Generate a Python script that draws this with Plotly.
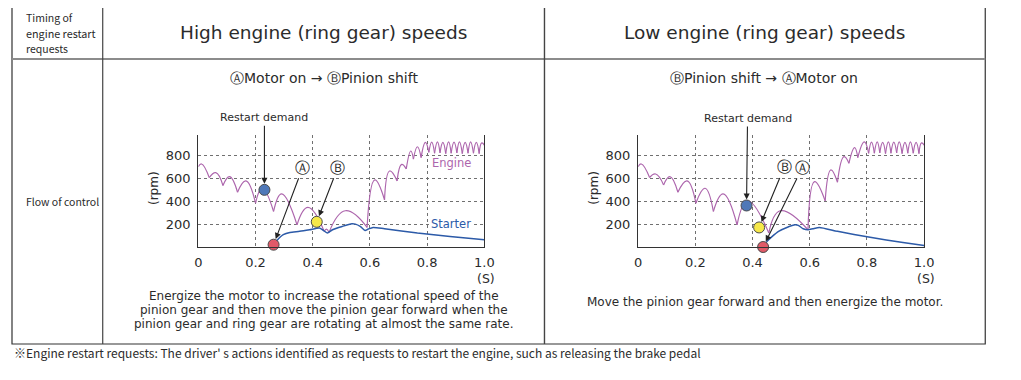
import plotly.graph_objects as go

# the page body adds an 8px margin; the figure is drawn inside it
OFF = 8
W, H = 1021 - OFF - 8, 380 - OFF - 8

# ---------------- data ----------------
x_tick_vals = [0, 0.2, 0.4, 0.6, 0.8, 1.0]
x_tick_text = ["0", "0.2", "0.4", "0.6", "0.8", "1.0"]
y_tick_vals = [200, 400, 600, 800]
y_tick_text = ["200", "400", "600", "800"]

# Engine speed: alternating valley / peak points (valley, peak, valley, ...)
hi_engine_x = [0.0, 0.011, 0.038, 0.061, 0.086, 0.109, 0.137, 0.166, 0.200, 0.223,
               0.263, 0.291, 0.345, 0.383, 0.440, 0.448, 0.457, 0.514, 0.590, 0.617,
               0.651, 0.669, 0.695, 0.711, 0.727, 0.743, 0.752, 0.766, 0.779, 0.794,
               0.806, 0.816, 0.826, 0.836, 0.845, 0.855, 0.865, 0.875, 0.884, 0.894,
               0.904, 0.913, 0.923, 0.933, 0.943, 0.952, 0.962, 0.972, 0.982, 0.991,
               1.0]
hi_engine_y = [699, 722, 604, 647, 534, 612, 476, 575, 381, 511,
               309, 462, 193, 344, 136, 156, 127, 315, 170, 583,
               410, 661, 575, 719, 679, 835, 765, 872, 777, 910,
               823, 912, 815, 915, 818, 910, 812, 915, 815, 912,
               818, 915, 812, 910, 815, 915, 815, 910, 812, 905,
               886]
hi_starter_x = [0.263, 0.274, 0.297, 0.320, 0.354, 0.389, 0.423, 0.434, 0.451, 0.469,
                0.503, 0.537, 0.549, 0.566, 0.583, 0.594, 0.611, 0.651, 0.766, 0.880, 1.0]
hi_starter_y = [20, 55, 107, 127, 136, 150, 165, 150, 121, 150,
                179, 202, 199, 179, 144, 156, 170, 159, 121, 92, 64]
# restart demand (blue), A motor on (red), B pinion shift (yellow)
hi_event_x = [0.231, 0.263, 0.414]
hi_event_y = [497, 20, 219]

lo_engine_x = [0.0, 0.011, 0.040, 0.061, 0.089, 0.111, 0.139, 0.171, 0.202, 0.234,
               0.263, 0.297, 0.346, 0.383, 0.457, 0.497, 0.594, 0.617, 0.654, 0.674,
               0.697, 0.720, 0.737, 0.757, 0.768, 0.791, 0.806, 0.816, 0.826, 0.836,
               0.845, 0.855, 0.865, 0.875, 0.884, 0.894, 0.904, 0.913, 0.923, 0.933,
               0.943, 0.952, 0.962, 0.972, 0.982, 0.991, 1.0]
lo_engine_y = [699, 722, 604, 635, 540, 612, 476, 575, 381, 511,
               309, 462, 193, 400, 121, 315, 150, 569, 401, 670,
               563, 786, 728, 864, 777, 915, 814, 912, 815, 915,
               818, 910, 812, 915, 815, 912, 818, 915, 812, 910,
               815, 915, 815, 910, 812, 905, 886]
lo_starter_x = [0.437, 0.451, 0.469, 0.491, 0.520, 0.549, 0.560, 0.577, 0.594, 0.611,
                0.634, 0.697, 0.811, 0.926, 1.0]
lo_starter_y = [0, 49, 92, 136, 170, 193, 188, 159, 150, 159,
                170, 136, 84, 40, 14]
lo_event_x = [0.379, 0.437, 0.423]
lo_event_y = [361, 0, 170]

event_colors = ["#4f78b8", "#e05a68", "#f6e84a"]

ENGINE_C = "#ad66ad"
STARTER_C = "#2c5aa8"
FONT = "DejaVu Sans"
JFONT = "Noto Sans CJK JP"
TXT = "#2b2b2b"


# pixel geometry helpers (coordinates measured on the 1021x380 page)
def px(x):
    return (x - OFF) / W


def py(y):
    return 1 - (y - OFF) / H


Y_TOP = 974


def arcs(xs, ys):
    """split the valley/peak sequence into separate humps (valley-peak-valley)."""
    ox, oy = [], []
    for i in range(0, len(xs) - 1, 2):
        seg = range(i, min(i + 3, len(xs)))
        ox += [xs[j] for j in seg] + [None]
        oy += [ys[j] for j in seg] + [None]
    return ox, oy


fig = go.Figure()

panels = [
    ("x", "y", hi_engine_x, hi_engine_y, hi_starter_x, hi_starter_y, hi_event_x, hi_event_y),
    ("x2", "y2", lo_engine_x, lo_engine_y, lo_starter_x, lo_starter_y, lo_event_x, lo_event_y),
]
for xa, ya, ex, ey, sx, sy, evx, evy in panels:
    ax_, ay_ = arcs(ex, ey)
    fig.add_trace(go.Scatter(x=ax_, y=ay_, xaxis=xa, yaxis=ya, mode="lines",
                             line=dict(color=ENGINE_C, width=1.2, shape="spline", smoothing=1.3),
                             connectgaps=False, hoverinfo="skip", showlegend=False))
    fig.add_trace(go.Scatter(x=sx, y=sy, xaxis=xa, yaxis=ya, mode="lines",
                             line=dict(color=STARTER_C, width=1.5, shape="spline", smoothing=0.6),
                             hoverinfo="skip", showlegend=False))
    fig.add_trace(go.Scatter(x=evx, y=evy, xaxis=xa, yaxis=ya, mode="markers",
                             marker=dict(size=11, color=event_colors,
                                         line=dict(color="#4a4a4a", width=1)),
                             cliponaxis=False, hoverinfo="skip", showlegend=False))

axis_common = dict(showline=True, linecolor="#333", linewidth=1.3, zeroline=False,
                   showgrid=True, gridcolor="#707070", gridwidth=1, griddash="3px,3px",
                   ticks="", tickfont=dict(family=FONT, size=13, color=TXT), fixedrange=True)

y_dom = [py(247), py(135)]
fig.update_layout(
    width=W, height=H, margin=dict(l=0, r=0, t=0, b=0),
    paper_bgcolor="white", plot_bgcolor="white",
    xaxis=dict(domain=[px(197), px(487)], range=[0, 1], tickvals=x_tick_vals,
               ticktext=x_tick_text, anchor="y", ticklabelstandoff=3, **axis_common),
    yaxis=dict(domain=y_dom, range=[0, Y_TOP], tickvals=y_tick_vals, ticktext=y_tick_text,
               anchor="x", mirror=True, ticklabelstandoff=4, **axis_common),
    xaxis2=dict(domain=[px(643), px(933)], range=[0, 1], tickvals=x_tick_vals,
                ticktext=x_tick_text, anchor="y2", ticklabelstandoff=3, **axis_common),
    yaxis2=dict(domain=y_dom, range=[0, Y_TOP], tickvals=y_tick_vals, ticktext=y_tick_text,
                anchor="x2", mirror=True, ticklabelstandoff=4, **axis_common),
)

# ---------------- table frame ----------------
shapes = [
    dict(type="rect", x0=px(8), x1=px(995), y0=py(6), y1=py(344),
         line=dict(color="#333", width=1.2)),
    dict(type="line", x0=px(8), x1=px(995), y0=py(59), y1=py(59),
         line=dict(color="#8c8c8c", width=2)),
    dict(type="line", x0=px(100), x1=px(100), y0=py(6), y1=py(344),
         line=dict(color="#444", width=1.2)),
    dict(type="line", x0=px(548), x1=px(548), y0=py(6), y1=py(344),
         line=dict(color="#444", width=1.4)),
]
for s in shapes:
    s.update(xref="paper", yref="paper", layer="below")
fig.update_layout(shapes=shapes)

ann = []


def text(x, y, t, size=11, family=FONT, xanchor="center", color=TXT, **kw):
    ann.append(dict(x=px(x), y=py(y), xref="paper", yref="paper", text=t, showarrow=False,
                    xanchor=xanchor, yanchor="middle",
                    font=dict(family=family, size=size, color=color), **kw))


# header cells
text(20, 17, "Timing of", 10.5, JFONT, "left")
text(20, 33, "engine restart", 10.8, JFONT, "left")
text(20, 48, "requests", 10.5, JFONT, "left")
text(324, 33, "High engine (ring gear) speeds", 18.5)
text(771, 33, "Low engine (ring gear) speeds", 18.5)
text(20, 201, "Flow of control", 10.5, JFONT, "left")

# sub titles
text(324, 78, "ⒶMotor on → ⒷPinion shift", 14)
text(771, 78, "ⒷPinion shift → ⒶMotor on", 14)

# axis extras
for cx in (152, 598):
    text(cx, 188, "(rpm)", 12, textangle=-90)
text(489, 278, "(S)", 12.5)
text(935, 278, "(S)", 12.5)

# curve labels
text(432, 163, "Engine", 11.5, xanchor="left", color=ENGINE_C)
text(432, 224, "Starter", 11.5, xanchor="left", color=STARTER_C, bgcolor="white", borderpad=0)

# descriptions
text(324, 296, "Energize the motor to increase the rotational speed of the", 12)
text(324, 310, "pinion gear and then move the pinion gear forward when the", 12)
text(324, 324, "pinion gear and ring gear are rotating at almost the same rate.", 12)
text(772, 302, "Move the pinion gear forward and then energize the motor.", 12)

# footnote
text(8, 352, "※Engine restart requests: The driver' s actions identified as requests to "
     "restart the engine, such as releasing the brake pedal", 12, JFONT, "left")


def arrow(xa, ya, x, y, label, axp, ayp, size=11):
    ann.append(dict(x=x, y=y, xref=xa, yref=ya, ax=axp, ay=ayp, text=label,
                    showarrow=True, arrowhead=2, arrowsize=1.1, arrowwidth=1.1,
                    arrowcolor="#222", standoff=6,
                    font=dict(family=FONT, size=size, color=TXT)))


arrow("x", "y", hi_event_x[0], hi_event_y[0], "Restart demand", 0, -72)
arrow("x", "y", hi_event_x[1], hi_event_y[1], "Ⓐ", 29, -77, 15)
arrow("x", "y", hi_event_x[2], hi_event_y[2], "Ⓑ", 21, -54, 15)
arrow("x2", "y2", lo_event_x[0], lo_event_y[0], "Restart demand", 1, -87)
arrow("x2", "y2", lo_event_x[2], lo_event_y[2], "Ⓑ", 25, -60, 15)
arrow("x2", "y2", lo_event_x[1], lo_event_y[1], "Ⓐ", 39, -79, 15)

fig.update_layout(annotations=ann)

fig.write_html("out.html")
